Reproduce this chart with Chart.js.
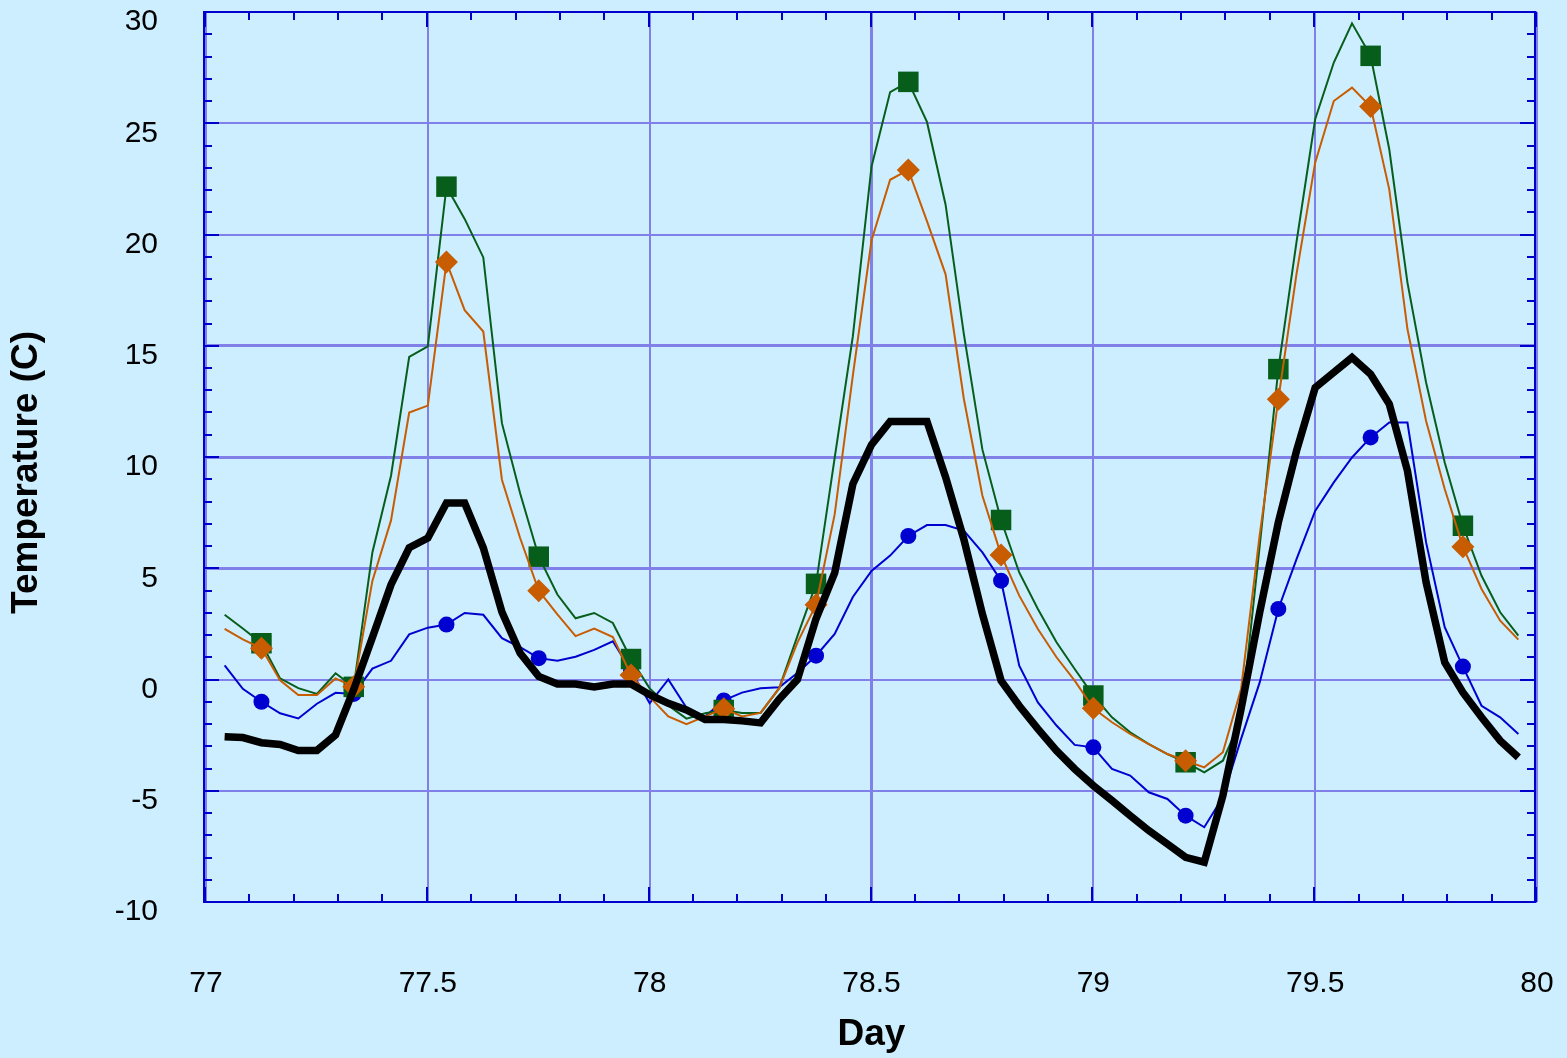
<!DOCTYPE html>
<html>
<head>
<meta charset="utf-8">
<script src="https://cdn.jsdelivr.net/npm/chart.js@4"></script>
<style>
  html, body { margin: 0; padding: 0; background: #cceeff; }
  canvas { display: block; }
</style>
</head>
<body>
<canvas id="tempChart" width="1567" height="1058"></canvas>
<script>

// ============================
// DATA (hourly readings)
// ============================

const days = [
    77.042, 77.083, 77.125, 77.167, 77.208, 77.25, 77.292, 77.333, 77.375, 77.417,
    77.458, 77.5, 77.542, 77.583, 77.625, 77.667, 77.708, 77.75, 77.792, 77.833,
    77.875, 77.917, 77.958, 78, 78.042, 78.083, 78.125, 78.167, 78.208, 78.25,
    78.292, 78.333, 78.375, 78.417, 78.458, 78.5, 78.542, 78.583, 78.625, 78.667,
    78.708, 78.75, 78.792, 78.833, 78.875, 78.917, 78.958, 79, 79.042, 79.083,
    79.125, 79.167, 79.208, 79.25, 79.292, 79.333, 79.375, 79.417, 79.458, 79.5,
    79.542, 79.583, 79.625, 79.667, 79.708, 79.75, 79.792, 79.833, 79.875, 79.917,
    79.958
];

const blackTemps = [
    -2.57, -2.61, -2.84, -2.92, -3.19, -3.19, -2.49, -0.45, 1.89, 4.26,
    5.92, 6.36, 7.93, 7.93, 5.92, 3.03, 1.19, 0.14, -0.2, -0.2,
    -0.33, -0.2, -0.2, -0.68, -1.07, -1.37, -1.8, -1.8, -1.86, -1.95,
    -0.88, 0.0, 2.73, 4.79, 8.79, 10.55, 11.6, 11.6, 11.6, 9.1,
    6.31, 2.94, -0.05, -1.18, -2.22, -3.2, -4.02, -4.77, -5.44, -6.12,
    -6.79, -7.39, -7.99, -8.21, -5.22, -1.33, 3.02, 7.06, 10.28, 13.12,
    13.8, 14.47, 13.72, 12.38, 9.38, 4.37, 0.77, -0.58, -1.7, -2.75,
    -3.5
];

const greenTemps = [
    2.91, 2.29, 1.63, 0.05, -0.39, -0.65, 0.28, -0.33, 5.71, 9.16,
    14.5, 14.97, 22.15, 20.7, 18.97, 11.52, 8.37, 5.52, 3.82, 2.75,
    2.99, 2.54, 0.92, -0.4, -1.17, -1.76, -1.52, -1.37, -1.5, -1.5,
    -0.39, 1.95, 4.3, 9.96, 15.43, 23.05, 26.4, 26.86, 25.06, 21.34,
    15.54, 10.33, 7.17, 4.81, 3.17, 1.67, 0.47, -0.72, -1.7, -2.37,
    -2.9, -3.35, -3.72, -4.17, -3.65, -1.77, 6.0, 13.95, 19.67, 25.18,
    27.73, 29.49, 28.03, 23.83, 17.84, 13.35, 9.75, 6.91, 4.66, 3.02,
    1.97
];

const orangeTemps = [
    2.28, 1.8, 1.4, -0.04, -0.7, -0.7, 0.05, -0.33, 4.43, 7.15,
    12.0, 12.31, 18.76, 16.6, 15.64, 8.98, 6.36, 3.99, 2.93, 1.95,
    2.29, 1.91, 0.2, -0.78, -1.66, -2.01, -1.66, -1.31, -1.66, -1.5,
    -0.39, 1.66, 3.36, 7.42, 13.67, 19.73, 22.46, 22.9, 20.6, 18.21,
    12.63, 8.26, 5.6, 3.77, 2.27, 1.0, -0.05, -1.29, -1.92, -2.45,
    -2.9, -3.35, -3.65, -3.95, -3.27, -0.43, 6.5, 12.6, 18.23, 23.23,
    26.0, 26.6, 25.75, 22.03, 15.75, 11.62, 8.56, 5.97, 4.07, 2.64,
    1.79
];

const blueTemps = [
    0.63, -0.42, -1.0, -1.52, -1.75, -1.09, -0.6, -0.65, 0.49, 0.84,
    2.03, 2.33, 2.47, 2.99, 2.91, 1.86, 1.45, 0.96, 0.84, 1.02,
    1.33, 1.72, 0.39, -1.07, 0.0, -1.27, -1.66, -0.94, -0.59, -0.39,
    -0.35, 0.29, 1.07, 2.05, 3.71, 4.88, 5.57, 6.45, 6.94, 6.94,
    6.69, 5.71, 4.44, 0.62, -1.03, -2.07, -2.94, -3.05, -4.02, -4.32,
    -5.07, -5.37, -6.12, -6.64, -5.29, -2.67, -0.13, 3.17, 5.41, 7.58,
    8.86, 9.98, 10.88, 11.55, 11.55, 6.16, 2.35, 0.58, -1.18, -1.7,
    -2.45
];

// axis ranges and labels
const dayRange = [77, 80];
const tempRange = [-10, 30];
const xTitle = 'Day';
const yTitle = 'Temperature (C)';


// ============================
// STYLE
// ============================

const FRAME_COLOR = '#0000cc';
const GRID_COLOR = '#8080e8';
const FONT = '"Liberation Sans", Arial, sans-serif';

// a marker on every fifth reading
const markerAt = (ctx, r) => (ctx.dataIndex % 5 === 2 ? r : 0);

const toPoints = (temps) => days.map((d, i) => ({ x: d, y: temps[i] }));


// ============================
// FRAME + INWARD TICK MARKS
// ============================

const frameTicks = {

    id: 'frameTicks',

    beforeDatasetsDraw(chart) {

        const { ctx, chartArea: a, scales: { x, y } } = chart;

        ctx.save();
        ctx.strokeStyle = FRAME_COLOR;
        ctx.lineWidth = 2;
        ctx.beginPath();

        // day ticks: minor every 0.1, major every 0.5
        for (let k = 0; k <= 30; k++) {
            const px = Math.round(x.getPixelForValue(dayRange[0] + k / 10)) - 1;
            const len = k % 5 === 0 ? 15 : 8;
            ctx.moveTo(px, a.bottom);
            ctx.lineTo(px, a.bottom - len);
            ctx.moveTo(px, a.top);
            ctx.lineTo(px, a.top + len);
        }

        // temperature ticks: minor every 1, major every 5
        for (let v = tempRange[0]; v <= tempRange[1]; v++) {
            const py = Math.round(y.getPixelForValue(v));
            const len = v % 5 === 0 ? 15 : 8;
            ctx.moveTo(a.left - 2, py);
            ctx.lineTo(a.left - 2 + len, py);
            ctx.moveTo(a.right - 2, py);
            ctx.lineTo(a.right - 2 - len, py);
        }

        ctx.stroke();

        // frame
        ctx.strokeRect(a.left - 2, a.top, a.right - a.left, a.bottom - a.top);

        ctx.restore();
    }
};


// ============================
// CHART
// ============================

new Chart(document.getElementById('tempChart'), {

    type: 'line',

    data: {

        datasets: [

            {
                label: 'Black',
                data: toPoints(blackTemps),
                borderColor: '#000000',
                borderWidth: 7.5,
                pointRadius: 0
            },

            {
                label: 'Orange',
                data: toPoints(orangeTemps),
                borderColor: '#c85c00',
                backgroundColor: '#c85c00',
                borderWidth: 2,
                pointStyle: 'rectRot',
                pointRadius: ctx => markerAt(ctx, 11.5),
                pointBorderWidth: 0
            },

            {
                label: 'Green',
                data: toPoints(greenTemps),
                borderColor: '#075e1b',
                backgroundColor: '#075e1b',
                borderWidth: 2,
                pointStyle: 'rect',
                pointRadius: ctx => markerAt(ctx, 14.5),
                pointBorderWidth: 0
            },

            {
                label: 'Blue',
                data: toPoints(blueTemps),
                borderColor: '#0000d0',
                backgroundColor: '#0000d0',
                borderWidth: 2,
                pointStyle: 'circle',
                pointRadius: ctx => markerAt(ctx, 8),
                pointBorderWidth: 0
            }

        ]

    },

    options: {

        responsive: false,
        animation: false,

        layout: {
            padding: { top: 12, right: 30, left: 0, bottom: 0 }
        },

        scales: {

            x: {
                type: 'linear',
                min: dayRange[0],
                max: dayRange[1],
                afterFit: (scale) => {
                    scale.height = 156;
                    scale.paddingLeft = 0;
                    scale.paddingRight = 0;
                },
                ticks: {
                    stepSize: 0.5,
                    padding: 64,
                    color: '#000000',
                    font: { family: FONT, size: 30 },
                    callback: (value) => String(Math.round(value * 10) / 10)
                },
                grid: {
                    color: GRID_COLOR,
                    lineWidth: ctx => (ctx.tick && ctx.tick.value === 78.5 ? 3 : 2),
                    drawTicks: false
                },
                border: { display: false },
                title: {
                    display: true,
                    text: xTitle,
                    color: '#000000',
                    font: { family: FONT, size: 37, weight: 'bold' },
                    padding: { top: 0, bottom: 1 }
                }
            },

            y: {
                min: tempRange[0],
                max: tempRange[1],
                afterFit: (scale) => {
                    scale.width = 206;
                    scale.paddingTop = 0;
                    scale.paddingBottom = 0;
                },
                ticks: {
                    stepSize: 5,
                    padding: 48,
                    labelOffset: 10,
                    color: '#000000',
                    font: { family: FONT, size: 30 }
                },
                grid: {
                    color: GRID_COLOR,
                    lineWidth: ctx => (ctx.tick && [5, 10, 15].includes(ctx.tick.value) ? 3 : 2),
                    drawTicks: false
                },
                border: { display: false },
                title: {
                    display: true,
                    text: yTitle + '   ',
                    color: '#000000',
                    font: { family: FONT, size: 37, weight: 'bold' },
                    padding: { top: 5, bottom: 0 }
                }
            }

        },

        plugins: {
            legend: { display: false },
            tooltip: { enabled: false }
        }

    },

    plugins: [frameTicks]

});

</script>
</body>
</html>
